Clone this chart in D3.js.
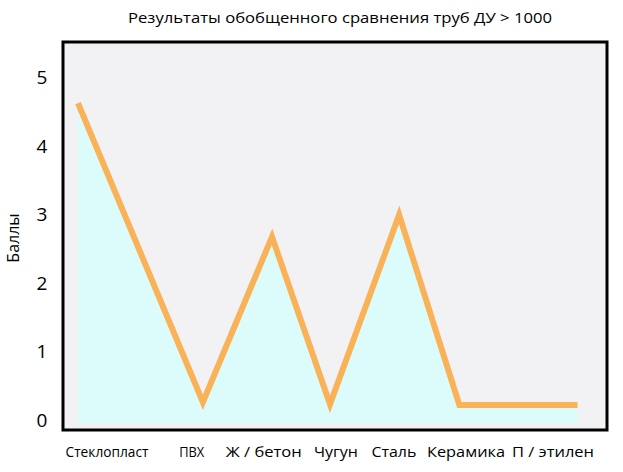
<!DOCTYPE html>
<html><head><meta charset="utf-8">
<script src="https://d3js.org/d3.v7.min.js"></script>
<style>body{margin:0;background:#fff}text{font-family:"Liberation Sans Narrow","Open Sans",sans-serif;fill:#000}</style>
</head><body><svg id="c" width="623" height="472"></svg>
<script>
const categories=["Стеклопласт","ПВХ","Ж / бетон","Чугун","Сталь","Керамика","П / этилен"];
const categoryPos=[0,1.14,2.11,3.08,3.86,4.83,6];
const pointPos=[-0.39,1.29,2.22,3.0,3.93,4.74,6.33];
const values=[4.62,0.26,2.67,0.23,2.99,0.22,0.22];
const yTicks=[0,1,2,3,4,5];
const title="Результаты обобщенного сравнения труб ДУ > 1000";
const yLabel="Баллы";

const svg=d3.select("#c");
const x=d3.scaleLinear().domain([0,6]).range([107,553]);
const y=d3.scaleLinear().domain([0,5]).range([420,77]);
svg.append("rect").attr("x",63).attr("y",42).attr("width",544).attr("height",388)
  .attr("fill","#f2f2f4").attr("stroke","#000").attr("stroke-width",3);
const pts=values.map((v,i)=>[pointPos[i],v]);
svg.append("path").datum(pts).attr("fill","#dcfcfc")
  .attr("d",d3.area().x(d=>x(d[0])).y0(y(-0.05)).y1(d=>y(d[1])));
svg.append("path").datum(pts).attr("fill","none").attr("stroke","#f9b257").attr("stroke-width",6)
  .attr("d",d3.line().x(d=>x(d[0])).y(d=>y(d[1])));
svg.selectAll(".yt").data(yTicks).join("text").attr("x",42).attr("y",d=>y(d)+7)
  .attr("text-anchor","middle").attr("font-size",19).text(d=>d);
svg.selectAll(".xt").data(categories).join("text").attr("x",(d,i)=>x(categoryPos[i])).attr("y",457)
  .attr("text-anchor","middle").attr("font-size",15).attr("textLength",(d,i)=>[83,25,76,44,45,78,82][i])
  .attr("lengthAdjust","spacingAndGlyphs").text(d=>d);
svg.append("text").attr("x",340).attr("y",23).attr("text-anchor","middle").attr("font-size",15)
  .attr("textLength",424).attr("lengthAdjust","spacingAndGlyphs").text(title);
svg.append("text").attr("transform","translate(19,238) rotate(-90)").attr("text-anchor","middle").attr("font-size",16).text(yLabel);
</script></body></html>
